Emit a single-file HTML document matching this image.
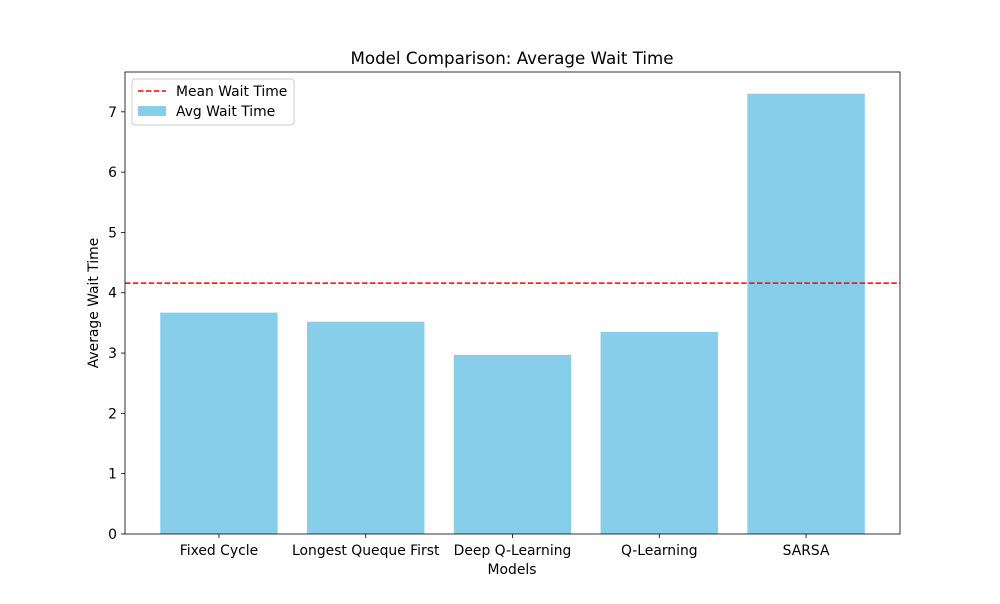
<!DOCTYPE html>
<html><head><meta charset="utf-8"><style>
body{margin:0;background:#fff;font-family:"DejaVu Sans","Liberation Sans",sans-serif}
</style></head><body>
<svg id="chart" width="1000" height="600" xmlns="http://www.w3.org/2000/svg" font-family="DejaVu Sans, Liberation Sans, sans-serif">
<rect width="1000" height="600" fill="#fff"/>
</svg>
<script>
const categories=["Fixed Cycle","Longest Queque First","Deep Q-Learning","Q-Learning","SARSA"];
const values=[3.67,3.52,2.97,3.35,7.30];
const yTicks=[0,1,2,3,4,5,6,7];
const meanValue=4.16;
const svg=document.getElementById('chart');
const NS="http://www.w3.org/2000/svg";
const L=125,R=900,T=72,B=534;
const xmin=-0.64,xmax=4.64,ymax=7.66;
const xs=v=>L+(v-xmin)/(xmax-xmin)*(R-L);
const ys=v=>B-v/ymax*(B-T);
function mk(tag,attrs,text){const e=document.createElementNS(NS,tag);for(const k in attrs)e.setAttribute(k,attrs[k]);if(text!==undefined)e.textContent=text;svg.appendChild(e);return e;}
categories.forEach((c,i)=>{
 const r=mk('rect',{x:xs(i-0.4),y:ys(values[i]),width:xs(0.4)-xs(-0.4),height:B-ys(values[i]),fill:'#87ceeb'});
 
 
 mk('line',{x1:xs(i),x2:xs(i),y1:B,y2:B+4,stroke:'#000','stroke-width':0.8});
 const t=mk('text',{x:xs(i),y:B+21,'text-anchor':'middle','font-size':13.9},c);
 
 
});
yTicks.forEach(v=>{
 mk('line',{x1:L-4,x2:L,y1:ys(v),y2:ys(v),stroke:'#000','stroke-width':0.8});
 const t=mk('text',{x:L-8,y:ys(v)+5,'text-anchor':'end','font-size':13.9},v);
 
 
});
const ml=mk('line',{x1:L,x2:R,y1:ys(meanValue),y2:ys(meanValue),stroke:'#ff0000','stroke-width':1.5,'stroke-dasharray':'5.5,2.4'});


const fr=mk('rect',{x:L,y:T,width:R-L,height:B-T,fill:'none',stroke:'#000','stroke-width':0.8});


</script>
<svg width="1000" height="600" style="position:absolute;left:0;top:0" xmlns="http://www.w3.org/2000/svg" font-family="DejaVu Sans, Liberation Sans, sans-serif">
<text x="512" y="64" text-anchor="middle" font-size="16.7">Model Comparison: Average Wait Time</text>
<text x="512" y="574" text-anchor="middle" font-size="13.9">Models</text>
<text transform="translate(98,303) rotate(-90)" text-anchor="middle" font-size="13.9">Average Wait Time</text>
<g>
<rect x="132" y="79" width="162" height="46" rx="3" fill="#fff" fill-opacity="0.8" stroke="#ccc" stroke-width="1"/>
<line x1="138" x2="166" y1="91" y2="91" stroke="#ff0000" stroke-width="1.5" stroke-dasharray="5.5,2.4"/>
<text x="176" y="96" font-size="13.9">Mean Wait Time</text>
<rect x="138" y="106" width="28" height="10" fill="#87ceeb"/>
<text x="176" y="116" font-size="13.9">Avg Wait Time</text>
</g>
</svg>
</body></html>
